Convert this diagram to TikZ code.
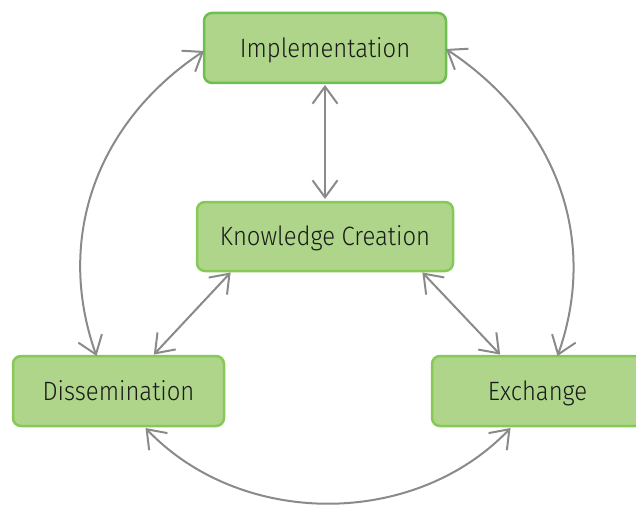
\documentclass[tikz,border=0pt]{standalone}
\usepackage{fontspec}
\setmainfont{Fira Sans}[UprightFont={* Light},FakeStretch=0.9]
\usetikzlibrary{arrows.meta,bending}
\definecolor{boxfill}{HTML}{AED58A}
\definecolor{boxline}{HTML}{86C957}
\definecolor{boxlinedark}{HTML}{6CC04E}
\definecolor{arrowgray}{HTML}{8A8A8A}
\definecolor{txt}{HTML}{1A1A1A}
\begin{document}
\begin{tikzpicture}[x=1pt,y=1pt,
  box/.style={draw=boxline, line width=2.5pt, fill=boxfill, rounded corners=8pt,
    text=txt, font=\fontsize{26.5}{30}\selectfont, inner sep=0pt, outer sep=0pt,
    text height=23.3pt, text depth=5pt},
  conn/.style={draw=arrowgray, line width=2pt,
    {Straight Barb[length=17pt,width=25pt]}-{Straight Barb[length=17pt,width=25pt]}}]
\useasboundingbox (0,0) rectangle (636,504);
\node[box, draw=boxlinedark, minimum width=242pt, minimum height=70pt] (impl) at (325,456) {Implementation};
\node[box, minimum width=256pt, minimum height=69pt] (kc) at (325,267.5) {Knowledge Creation};
\node[box, minimum width=211pt, minimum height=70pt] (diss) at (118.5,113) {Dissemination};
\node[box, minimum width=211pt, minimum height=70pt] (exch) at (537.5,113) {Exchange};
% straight connectors
\draw[conn, shorten <=2pt, shorten >=3pt] (impl.south) -- (kc.north);
\draw[conn, shorten <=2pt, shorten >=2pt] ([xshift=-93pt]kc.south) -- ([xshift=34pt]diss.north);
\draw[conn, shorten <=2pt, shorten >=2pt] ([xshift=96pt]kc.south) -- ([xshift=-36pt]exch.north);
% curved connectors
\draw[conn] ([yshift=-3pt]impl.west) to[out=213,in=110] ([xshift=-22pt]diss.north);
\draw[conn] ([yshift=-1pt]impl.east) to[out=-33,in=70] ([xshift=20pt]exch.north);
\draw[conn] ([xshift=27pt, yshift=-2pt]diss.south) to[out=-47,in=-133,looseness=0.97] ([xshift=-27pt, yshift=-2pt]exch.south);
\end{tikzpicture}
\end{document}
